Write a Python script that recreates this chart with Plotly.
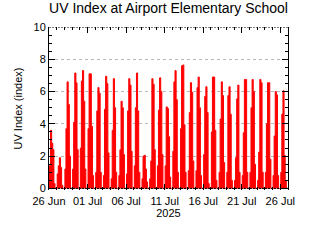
import pandas as pd
import plotly.graph_objects as go

# ---- data -------------------------------------------------------------
start_date = "2025-06-26"
day_dates = pd.date_range(start_date, periods=31, freq="D")
# hours of the day at which each UV sample is taken (night points are zero)
sample_hours = [0.0, 3.0, 6.5, 10.0, 13.5, 17.0, 20.5]
night_uv = 0.0
# daytime UV index samples for each day (hours 3, 6.5, 10, 13.5, 17)
daily_uv = [
    [1.4, 3.6, 2.8, 2.4, 0.3],
    [0.9, 1.4, 1.9, 1.3, 0.2],
    [1.2, 3.7, 6.6, 5.2, 2.0],
    [1.2, 4.1, 7.15, 6.55, 2.4],
    [2.5, 6.65, 7.3, 5.4, 1.2],
    [3.7, 7.1, 7.1, 3.85, 0.8],
    [1.0, 4.8, 6.25, 5.9, 1.0],
    [0.8, 4.9, 6.95, 6.5, 2.2],
    [0.6, 3.6, 6.8, 5.0, 1.0],
    [0.8, 2.4, 5.4, 5.0, 2.1],
    [0.9, 4.8, 6.8, 6.4, 2.3],
    [1.4, 5.0, 7.15, 4.8, 1.0],
    [0.6, 2.0, 2.05, 1.2, 0.4],
    [0.6, 1.7, 6.8, 6.45, 2.4],
    [1.4, 4.85, 6.85, 6.0, 2.1],
    [1.4, 5.05, 4.95, 3.2, 0.7],
    [2.3, 6.6, 7.3, 5.5, 1.0],
    [3.7, 7.6, 7.65, 3.95, 1.0],
    [1.1, 4.7, 6.55, 5.95, 1.7],
    [1.1, 6.25, 6.9, 5.0, 0.8],
    [2.1, 5.7, 6.3, 4.7, 0.3],
    [3.5, 6.9, 6.9, 3.6, 0.5],
    [1.0, 4.3, 6.6, 5.75, 1.6],
    [1.0, 5.75, 6.3, 4.6, 0.5],
    [0.5, 1.9, 5.55, 6.4, 1.0],
    [0.8, 3.45, 6.75, 6.75, 1.0],
    [1.0, 5.0, 6.75, 6.0, 1.5],
    [0.5, 2.25, 6.75, 6.55, 1.0],
    [1.0, 4.0, 6.55, 6.55, 1.8],
    [0.8, 3.25, 6.0, 5.8, 0.8],
    [1.0, 4.6, 6.05, 2.05, 0.5],
]
title_text = "UV Index at Airport Elementary School"
y_title = "UV Index (index)"
x_title = "2025"

# ---- build series -----------------------------------------------------
times, values = [], []
for day, vals in zip(day_dates, daily_uv):
    day_vals = [night_uv] + vals + [night_uv]
    for h, v in zip(sample_hours, day_vals):
        times.append(day + pd.Timedelta(hours=h))
        values.append(v)

FONT = "Liberation Sans"

fig = go.Figure()
fig.add_trace(go.Scatter(x=times, y=values, mode="lines",
                         line=dict(color="#ff0000", width=1, shape="hvh"),
                         fill="tozeroy", fillcolor="#ff0000",
                         hoverinfo="skip", showlegend=False))

x_start = pd.Timestamp(start_date)
x_end = x_start + pd.Timedelta(days=31)

# dotted top and bottom borders
for yv in (0, 10):
    fig.add_shape(type="line", xref="paper", x0=0, x1=1, yref="y", y0=yv, y1=yv,
                  line=dict(color="black", width=1, dash="2px,1px"), layer="above")

fig.update_layout(
    width=320, height=240,
    margin=dict(l=49, r=32, t=27, b=50),
    paper_bgcolor="white", plot_bgcolor="white",
    font=dict(family=FONT, size=11, color="black"),
    title=dict(text=title_text, x=0.5, xref="paper", y=0.985, yref="container",
               yanchor="top", font=dict(family=FONT, size=14, color="black")),
    xaxis=dict(
        type="date", range=[x_start, x_end],
        tick0=start_date, dtick=5 * 86400000, tickformat="%d %b",
        ticks="inside", ticklen=6, tickcolor="black", mirror="ticks",
        showline=False, showgrid=False, zeroline=False,
        ticklabelstandoff=3,
        minor=dict(ticks="inside", dtick=86400000, tick0=start_date,
                   ticklen=3, tickcolor="black", showgrid=False),
        title=dict(text=x_title, standoff=1, font=dict(family=FONT, size=11)),
        tickfont=dict(family=FONT, size=11),
    ),
    yaxis=dict(
        range=[-0.1, 10], tickvals=[0, 2, 4, 6, 8, 10],
        ticks="inside", ticklen=6, tickcolor="black",
        showline=True, linecolor="black", linewidth=1, mirror="ticks",
        showgrid=True, gridcolor="#b8b8b8", griddash="dot", gridwidth=1,
        zeroline=False,
        minor=dict(ticks="inside", dtick=0.5, tick0=0, ticklen=3,
                   tickcolor="black", showgrid=False),
        title=dict(text=y_title, standoff=8, font=dict(family=FONT, size=11)),
        tickfont=dict(family=FONT, size=11),
    ),
)

fig.write_html("out.html")
